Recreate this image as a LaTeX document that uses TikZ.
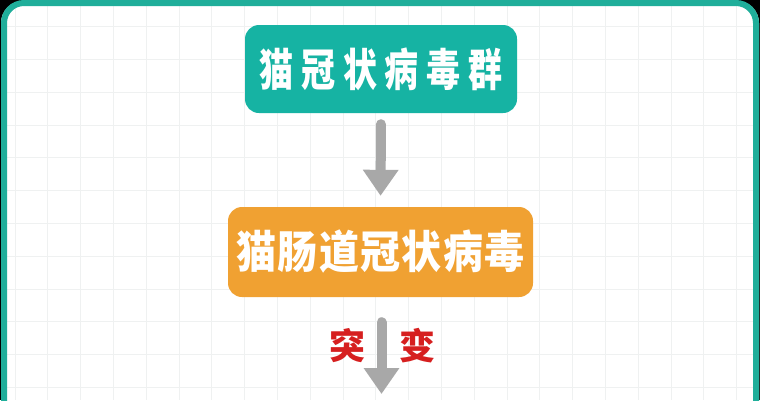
\documentclass[tikz,border=0pt]{standalone}
\usepackage{fontspec}
\newfontfamily\cjk{Noto Sans CJK SC}
\usetikzlibrary{arrows.meta}
\definecolor{teal1}{HTML}{16B3A3}
\definecolor{frameteal}{HTML}{1FAE9A}
\definecolor{orange1}{HTML}{F0A132}
\definecolor{arrowgray}{HTML}{A8A8A8}
\definecolor{red1}{HTML}{D61F1F}
\definecolor{gridc}{HTML}{EFF1F1}
\tikzset{
  box/.style={rounded corners=14pt, inner sep=0pt, text=white,
    font=\cjk\bfseries\fontsize{40}{42}\selectfont},
  flow/.style={draw=arrowgray, line width=10pt, line cap=round,
    -{Triangle[width=34pt,length=26pt]}},
  lab/.style={text=red1, inner sep=0pt, font=\cjk\bfseries\fontsize{36}{38}\selectfont}
}
\begin{document}
\begin{tikzpicture}[x=1pt,y=-1pt]
\useasboundingbox (0,0) rectangle (760,400);
\fill[black] (0,0) rectangle (760,400);
\begin{scope}
\clip (0,0) rectangle (760,400);
\fill[white, rounded corners=22pt] (1,1) rectangle (759,450);
\begin{scope}
\clip[rounded corners=18pt] (7,6) rectangle (753,450);
\foreach \i in {0,...,23} \draw[gridc, line width=0.8pt] (15+32.8*\i,0) -- (15+32.8*\i,400);
\foreach \j in {0,...,12} \draw[gridc, line width=0.8pt] (0,26.6+32.8*\j) -- (760,26.6+32.8*\j);
\end{scope}
\draw[frameteal, line width=6pt, rounded corners=20pt] (4,3) rectangle (756,450);
\end{scope}
\node[box, fill=teal1, minimum width=272pt, minimum height=88pt] (b1) at (381,69)
  {\addfontfeatures{LetterSpace=23}\scalebox{0.85}[1.12]{猫冠状病毒群}};
\node[box, fill=orange1, minimum width=305pt, minimum height=90pt] (b2) at (380.5,252)
  {\addfontfeatures{LetterSpace=3.5}\scalebox{1}[1.12]{猫肠道冠状病毒}};
\coordinate (e2) at (381.5,394);
\draw[flow, shorten <=11pt, shorten >=11pt] (b1.south) -- (b2.north);
\draw[flow, shorten <=25pt] (b2.south -| e2) -- (e2);
\node[lab] (l1) at (347,346) {突};
\node[lab] (l2) at (417,346) {变};
\end{tikzpicture}
\end{document}
